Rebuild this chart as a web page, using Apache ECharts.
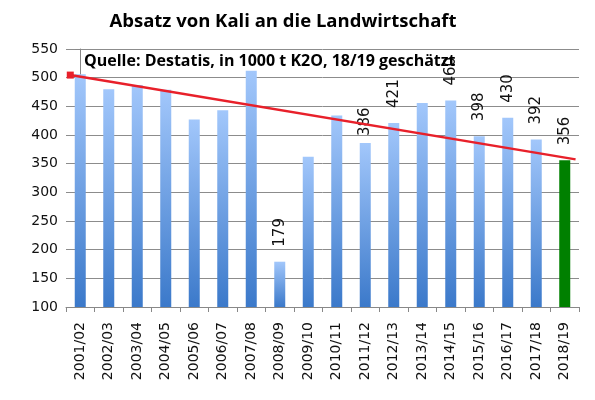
<!DOCTYPE html>
<html>
<head>
<meta charset="utf-8">
<script src="https://cdn.jsdelivr.net/npm/echarts@6/dist/echarts.min.js"></script>
<style>
  html, body { margin: 0; padding: 0; background: #fff; }
  #chart { width: 595px; height: 400px; }
</style>
</head>
<body>
<div id="chart"></div>
<script>
var years = ['2001/02', '2002/03', '2003/04', '2004/05', '2005/06', '2006/07',
             '2007/08', '2008/09', '2009/10', '2010/11', '2011/12', '2012/13',
             '2013/14', '2014/15', '2015/16', '2016/17', '2017/18', '2018/19'];
var sales = [506, 480, 487, 479, 427, 443, 512, 179, 362, 434, 386, 421,
             456, 460, 398, 430, 392, 356];
// which bars carry a value label in the original
var labelled = [false, false, false, false, false, false, false, true, false, false,
                true, true, false, true, true, true, true, true];
var trendX = [-0.35, 17.38];
var trendY = [504.5, 357.5];

var chart = echarts.init(document.getElementById('chart'));

var blue = new echarts.graphic.LinearGradient(0, 0, 0, 1, [
  {offset: 0, color: '#a2c7fb'},
  {offset: 1, color: '#3b79ca'}
]);

var barData = sales.map(function(v, i) {
  var item = {value: v};
  if(i === years.length - 1) item.itemStyle = {color: '#008000'};
  if(labelled[i]) {
    item.label = {show: true};
    if(v === 386) item.label.distance = 7;
  }
  return item;
});

var option = {
  animation: false,
  title: [
    {
      text: 'Absatz von Kali an die Landwirtschaft',
      left: 278,
      top: 7,
      textAlign: 'center',
      textStyle: {fontFamily: 'Open Sans', fontWeight: 'bold', fontSize: 18.5, color: '#000'}
    },
    {
      text: 'Quelle: Destatis, in 1000 t K2O, 18/19 geschätzt',
      left: 79,
      top: 48,
      textStyle: {fontFamily: 'Open Sans', fontWeight: 'bold', fontSize: 16, color: '#000'}
    }
  ],
  grid: {left: 66, right: 16, top: 49, bottom: 93},
  xAxis: [
    {
      type: 'category',
      data: years,
      axisLine: {lineStyle: {color: '#888'}},
      axisTick: {show: true, length: 5, lineStyle: {color: '#888'}},
      axisLabel: {
        rotate: 90,
        margin: 15,
        fontFamily: 'DejaVu Sans',
        fontSize: 14,
        color: '#111',
        interval: 0
      }
    },
    {
      type: 'value',
      min: -0.5,
      max: 17.5,
      show: false
    }
  ],
  yAxis: {
    type: 'value',
    min: 100,
    max: 550,
    interval: 50,
    axisLine: {show: true, lineStyle: {color: '#888'}},
    axisTick: {show: true, length: 5, lineStyle: {color: '#888'}},
    axisLabel: {fontFamily: 'DejaVu Sans', fontSize: 14, color: '#111', margin: 8},
    splitLine: {lineStyle: {color: '#8c8c8c', width: 1}}
  },
  series: [
    {
      name: 'Absatz',
      type: 'bar',
      barWidth: 11,
      data: barData,
      itemStyle: {color: blue},
      label: {
        show: false,
        position: 'top',
        rotate: 90,
        align: 'left',
        verticalAlign: 'middle',
        distance: 15,
        fontFamily: 'DejaVu Sans',
        fontSize: 15,
        color: '#111'
      }
    },
    {
      name: 'Trend',
      type: 'line',
      xAxisIndex: 1,
      data: [
        {value: [trendX[0], trendY[0]], symbol: 'rect', symbolSize: 7},
        {value: [trendX[1], trendY[1]], symbol: 'none'}
      ],
      showSymbol: true,
      lineStyle: {color: '#e8202a', width: 2.5},
      itemStyle: {color: '#e8202a'},
      z: 5
    }
  ]
};

chart.setOption(option);
</script>
</body>
</html>
